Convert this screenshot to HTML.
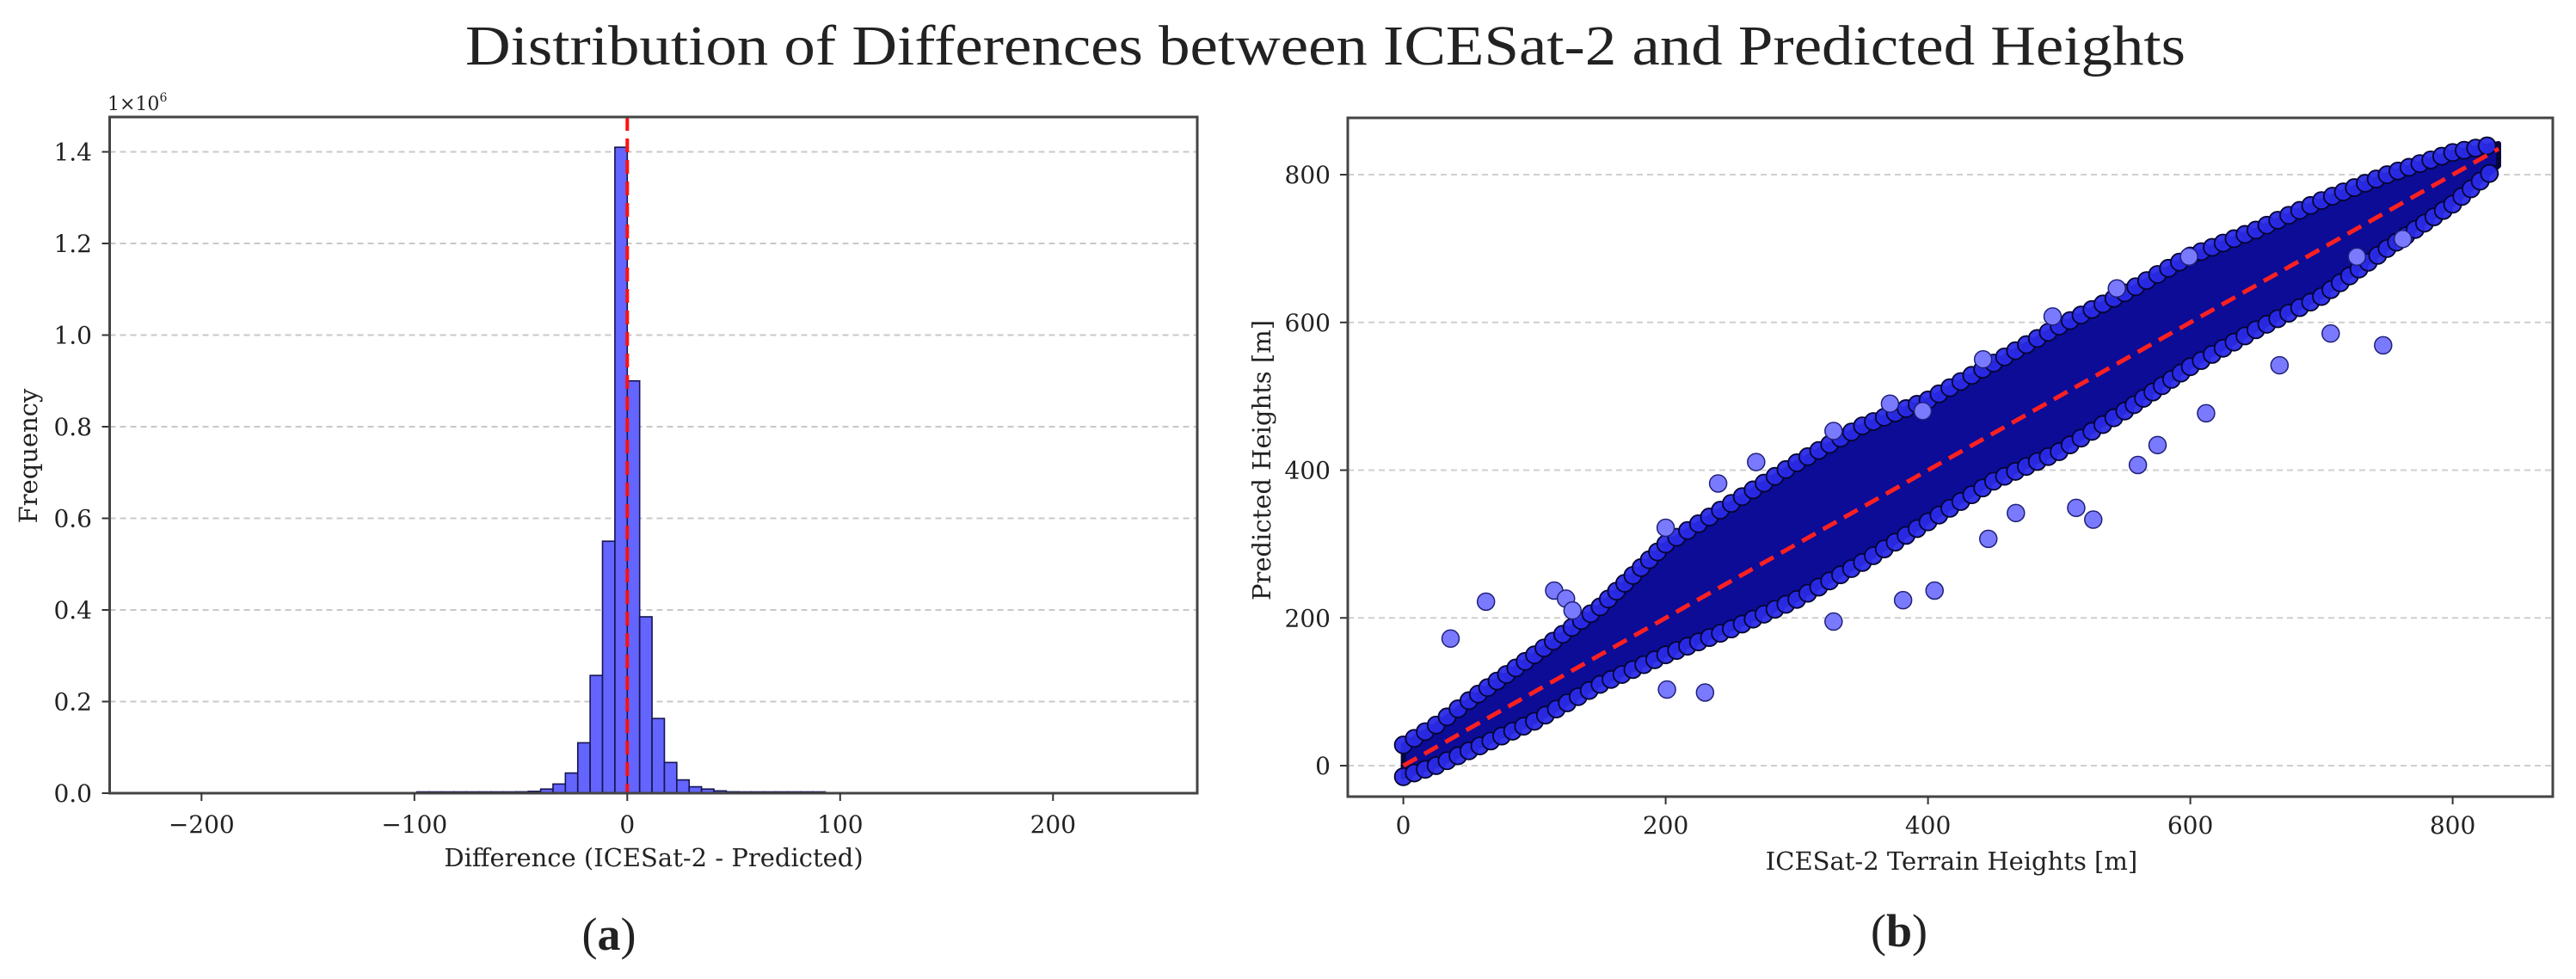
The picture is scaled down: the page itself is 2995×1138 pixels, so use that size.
<!DOCTYPE html>
<html><head><meta charset="utf-8"><style>
html,body{margin:0;padding:0;background:#fff;}
svg{display:block;}
text{font-family:"DejaVu Serif","Liberation Serif",serif;fill:#222;}
</style></head><body>
<svg id="fig" width="2995" height="1138" viewBox="0 0 2995 1138" xmlns="http://www.w3.org/2000/svg">
<text x="1541" y="75" font-size="66" textLength="2000" lengthAdjust="spacingAndGlyphs" text-anchor="middle" style="font-family:'Liberation Serif',serif">Distribution of Differences between ICESat-2 and Predicted Heights</text>
<g id="histo"></g>
<g id="scatter"></g>
<text x="708" y="1104" font-size="54" text-anchor="middle" style="font-family:'Liberation Serif',serif">(<tspan font-weight="bold">a</tspan>)</text>
<text x="2208" y="1100" font-size="54" text-anchor="middle" style="font-family:'Liberation Serif',serif">(<tspan font-weight="bold">b</tspan>)</text>
</svg>
<script>
// ---------- Histogram data ----------
const binStart = -250;
const binWidth = 500/86;
const histCounts = [0,0,0,0,0,0,0,0,0,0,0,0,0,0,0,0,0,0,0,0,0,0,0,0,0,0,
  0.0005,0.0006,0.0008,0.001,0.001,0.0015,0.002,0.002,0.003,0.004,0.009,0.02,0.044,0.11,0.257,0.55,1.41,
  0.90,0.385,0.163,0.067,0.029,0.014,0.009,0.005,0.003,0.002,0.0015,0.001,0.001,0.0008,0.0006,0.0005,
  0,0,0,0,0,0,0,0,0,0,0,0,0,0,0,0,0,0,0,0,0,0,0,0,0,0];
const histXTicks = [-200,-100,0,100,200];
const histYTicks = [0.0,0.2,0.4,0.6,0.8,1.0,1.2,1.4];
const histYTickLabels = ["0.0","0.2","0.4","0.6","0.8","1.0","1.2","1.4"];

// ---------- Scatter data ----------
const bandX     = [0,25,50,100,150,200,250,300,350,400,450,500,550,600,650,700,750,800,835];
const bandUpper = [28,55,88,150,215,300,355,410,460,495,545,595,640,690,725,765,800,830,842];
const bandLower = [-15,0,20,60,110,150,185,225,275,330,385,425,480,540,590,635,700,760,812];
const outlierX = [36,63,115,124,129,230,201,200,240,269,328,328,371,381,405,396,442,446,467,495,513,526,544,560,575,599,612,668,707,747,727,762];
const outlierY = [172,222,237,226,210,99,103,322,382,411,453,195,490,224,237,480,550,307,342,608,349,333,646,407,434,689,477,542,585,569,689,713];
const scatXTicks = [0,200,400,600,800];
const scatYTicks = [0,200,400,600,800];

const NS = "http://www.w3.org/2000/svg";
function mk(parent, tag, attrs, txt){
  const e = document.createElementNS(NS, tag);
  for (const k in attrs) e.setAttribute(k, attrs[k]);
  if (txt !== undefined) e.textContent = txt;
  parent.appendChild(e);
  return e;
}

// ===== Histogram panel =====
(function(){
  const g = document.getElementById('histo');
  const L=127.5, R=1392, T=136, B=922;
  const x = v => 729.3 + v*2.475;
  const y = v => 922 - v*532.5;
  histYTicks.forEach((t,i)=>{
    if (t>0){
      const gl = mk(g,'line',{x1:L,x2:R,y1:y(t),y2:y(t),stroke:'#c8c8c8','stroke-width':2,'stroke-dasharray':'7 5'});
      
      
    }
    const tk = mk(g,'line',{x1:L-9,x2:L,y1:y(t),y2:y(t),stroke:'#333','stroke-width':2});
    
    
    const tl = mk(g,'text',{x:107,y:y(t)+10,'font-size':28,'text-anchor':'end'},histYTickLabels[i]);
    
    
  });
  histCounts.forEach((c,i)=>{
    if (c<=0) return;
    const x0 = x(binStart + i*binWidth), x1 = x(binStart+(i+1)*binWidth);
    const h = Math.max(1.5, 922 - y(c));
    const r = mk(g,'rect',{x:x0,y:922-h,width:x1-x0,height:h,fill:'#6464ff',stroke:'#141450','stroke-width':1.6});
    
    
  });
  const ml = mk(g,'line',{x1:x(0),x2:x(0),y1:T,y2:B,stroke:'#ff1010','stroke-width':4,'stroke-dasharray':'16 9'});
  
  
  const fr = mk(g,'rect',{x:L,y:T,width:R-L,height:B-T,fill:'none',stroke:'#444','stroke-width':3});
  
  
  histXTicks.forEach(t=>{
    const tk = mk(g,'line',{x1:x(t),x2:x(t),y1:B,y2:B+9,stroke:'#333','stroke-width':2});
    
    
    const tl = mk(g,'text',{x:x(t),y:968,'font-size':28,'text-anchor':'middle'},t<0?('\u2212'+(-t)):String(t));
    
    
  });
  const xl = mk(g,'text',{x:760,y:1007,'font-size':29,'text-anchor':'middle'},'Difference (ICESat-2 - Predicted)');
  
  
  const yl = mk(g,'text',{x:0,y:0,'font-size':29,'text-anchor':'middle',transform:'translate(43,530) rotate(-90)'},'Frequency');
  
  
  const off = mk(g,'text',{x:125,y:128,'font-size':22},'1\u00d710');
  
  
  mk(off,'tspan',{'font-size':14,dy:-10},'6');
})();

// ===== Scatter panel =====
(function(){
  const g = document.getElementById('scatter');
  const L=1567, R=2968, T=137, B=926;
  const x = v => 1631.6 + v*1.525;
  const y = v => 890 - v*0.8587;
  scatYTicks.forEach(t=>{
    const gl = mk(g,'line',{x1:L,x2:R,y1:y(t),y2:y(t),stroke:'#cfcfcf','stroke-width':2,'stroke-dasharray':'7 5'});
    
    
    const tk = mk(g,'line',{x1:L-9,x2:L,y1:y(t),y2:y(t),stroke:'#333','stroke-width':2});
    
    
    const tl = mk(g,'text',{x:1547,y:y(t)+10,'font-size':28,'text-anchor':'end'},String(t));
    
    
  });
  let pts = [];
  bandX.forEach((v,i)=>pts.push(x(v)+','+y(bandUpper[i])));
  for (let i=bandX.length-1;i>=0;i--) pts.push(x(bandX[i])+','+y(bandLower[i]));
  const band = mk(g,'polygon',{points:pts.join(' '),fill:'#0c0c96',stroke:'#06063c','stroke-width':6,'stroke-linejoin':'round'});
  
  
  function edge(arr){
    for (let i=0;i<bandX.length-1;i++){
      const xa=x(bandX[i]), xb=x(bandX[i+1]), ya=y(arr[i]), yb=y(arr[i+1]);
      const n = Math.max(1, Math.round(Math.hypot(xb-xa,yb-ya)/14));
      for (let k=0;k<n;k++){
        const f=k/n;
        const c = mk(g,'circle',{cx:xa+(xb-xa)*f,cy:ya+(yb-ya)*f,r:10,fill:'#2a2ae8','fill-opacity':0.95,stroke:'#05052e','stroke-width':1.8});
        
        
      }
    }
  }
  edge(bandUpper); edge(bandLower);
  outlierX.forEach((v,i)=>{
    const c = mk(g,'circle',{cx:x(v),cy:y(outlierY[i]),r:10,fill:'#7a7aff',stroke:'#20207a','stroke-width':1.5});
    
    
  });
  const rl = mk(g,'line',{x1:x(0),y1:y(0),x2:x(835),y2:y(835),stroke:'#ff2020','stroke-width':5,'stroke-dasharray':'18 10'});
  
  
  const fr = mk(g,'rect',{x:L,y:T,width:R-L,height:B-T,fill:'none',stroke:'#444','stroke-width':3});
  
  
  scatXTicks.forEach(t=>{
    const tk = mk(g,'line',{x1:x(t),x2:x(t),y1:B,y2:B+9,stroke:'#333','stroke-width':2});
    
    
    const tl = mk(g,'text',{x:x(t),y:969,'font-size':28,'text-anchor':'middle'},String(t));
    
    
  });
  const xl = mk(g,'text',{x:2269,y:1011,'font-size':29,'text-anchor':'middle'},'ICESat-2 Terrain Heights [m]');
  
  
  const yl = mk(g,'text',{x:0,y:0,'font-size':29,'text-anchor':'middle',transform:'translate(1477,535) rotate(-90)'},'Predicted Heights [m]');
  
  
})();
</script>
</body></html>
